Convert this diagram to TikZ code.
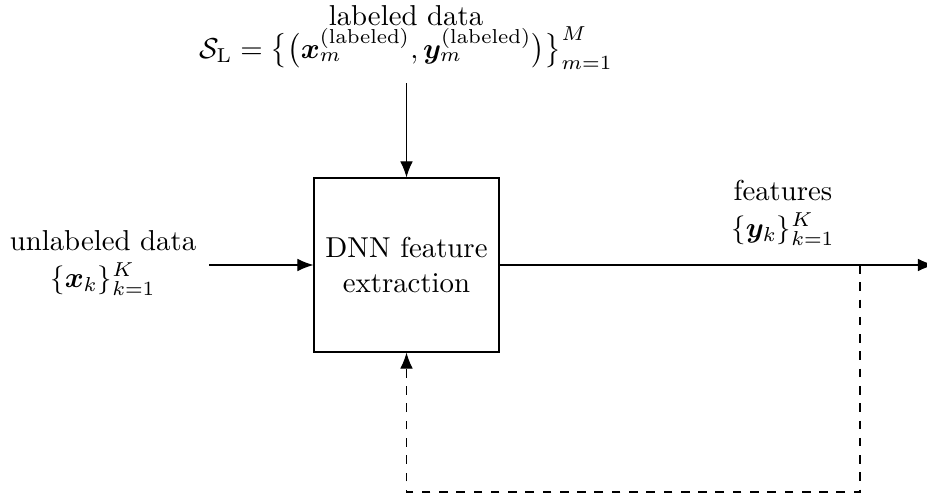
\documentclass[tikz,border=0pt]{standalone}
\usepackage{amsmath}
\usepackage{bm}
\usetikzlibrary{arrows.meta}
\begin{document}
\begin{tikzpicture}[x=0.3472pt,y=-0.3472pt,
  lbl/.style={anchor=base,inner sep=0pt,align=center},
  block/.style={draw,minimum width=64.2pt,minimum height=60.4pt,align=center,inner sep=0pt},
  flow/.style={-{Latex[length=5.6pt,width=4.4pt]}},
  feedback/.style={flow,dashed}]
\useasboundingbox (0,0) rectangle (927,498);

% feature extractor
\node[block] (dnn) at (406.5,265) {DNN feature\\extraction};

% labeled training set (top); base anchor sits on the last line
\node[lbl] (lbl) at (406,58) {labeled data\\[-0.8pt]
  $\mathcal{S}_{\mathrm{L}}=\big\{\big(\bm{x}_m^{(\mathrm{labeled})},\bm{y}_m^{(\mathrm{labeled})}\big)\big\}_{m=1}^{M}$};

% unlabeled input (left)
\node[lbl] (unl) at (103,287) {unlabeled data\\[0.6pt]$\{\bm{x}_k\}_{k=1}^{K}$};

% extracted features (right)
\node[lbl] (feat) at (783,237) {features\\[0.6pt]$\{\bm{y}_k\}_{k=1}^{K}$};

% connector end points
\coordinate (topin) at (406.5,83);
\coordinate (leftin) at (209,265);
\coordinate (rightout) at (934,265);
\coordinate (tap) at (860,265);
\coordinate (loopr) at (860,492);
\coordinate (loopl) at (406.5,492);

\draw[flow] (topin) -- (dnn.north);
\draw[flow] (leftin) -- (dnn.west);
\draw[flow] (dnn.east) -- (rightout);
\draw[feedback] (tap) -- (loopr) -- (loopl) -- (dnn.south);
\end{tikzpicture}
\end{document}
